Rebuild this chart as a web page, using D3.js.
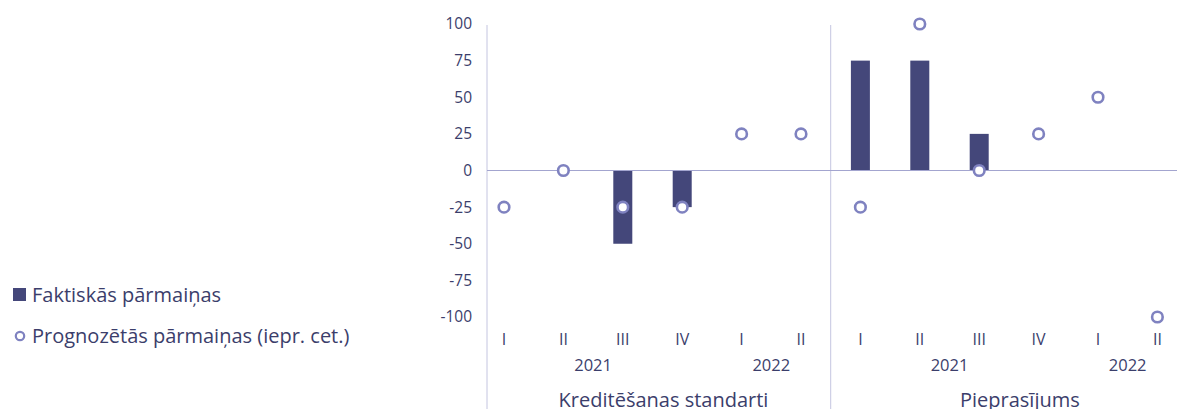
<!DOCTYPE html>
<html>
<head>
<meta charset="utf-8">
<script src="https://cdn.jsdelivr.net/npm/d3@7"></script>
<style>
  body { margin: 0; background: #fff; }
  svg { display: block; font-family: "Open Sans", sans-serif; }
</style>
</head>
<body>
<script>
// data
var groups   = ["Kreditēšanas standarti", "Pieprasījums"]
  , quarters = ["I", "II", "III", "IV", "I", "II"]
  , years    = ["2021", "2022"]
  , actual   = [[0, 0, -50, -25, 0, 0], [75, 75, 25, 0, 0, 0]]
  , forecast = [[-25, 0, -25, -25, 25, 25], [-25, 100, 0, 25, 50, -100]]
  , yTicks   = [100, 75, 50, 25, 0, -25, -50, -75, -100]
  , legendLabels = ["Faktiskās pārmaiņas", "Prognozētās pārmaiņas (iepr. cet.)"]

var W = 1179, H = 409
  , textColor = "#3b3e6b"
  , barColor  = "#44477a"
  , dotColor  = "#7f82c0"

var svg = d3.select("body").append("svg").attr("width", W).attr("height", H)

// flat list of categories
var rows = []
groups.forEach(function (g, gi) {
	quarters.forEach(function (q, qi) {
		rows.push({ key: gi + "-" + qi, g: gi, q: qi, label: q, bar: actual[gi][qi], dot: forecast[gi][qi] })
	})
})

var x = d3.scaleBand().domain(rows.map(function (d) { return d.key })).range([474.3, 1187.1])
  , y = d3.scaleLinear().domain([-100, 100]).range([317, 24])
  , cx = function (k) { return x(k) + x.bandwidth() / 2 }

var axisX = 487

// y axis labels (plain hyphen for negatives, like the original)
var yAxis = svg.append("g")
	.attr("transform", "translate(" + axisX + ",0)")
	.call(d3.axisLeft(y).tickValues(yTicks).tickSize(0).tickPadding(15).tickFormat(String))
yAxis.select(".domain").remove()
yAxis.selectAll("text").attr("fill", textColor).style("font-size", "15.5px").style("font-family", "Open Sans")

// vertical lines
svg.append("line").attr("x1", axisX).attr("x2", axisX).attr("y1", 25).attr("y2", H)
	.attr("stroke", "#c4c5e0").attr("stroke-width", 1)
var divX = (cx("0-5") + cx("1-0")) / 2
svg.append("line").attr("x1", divX).attr("x2", divX).attr("y1", 25).attr("y2", H)
	.attr("stroke", "#c4c5e0").attr("stroke-width", 1)

// bars
svg.selectAll("rect.bar").data(rows.filter(function (d) { return d.bar !== 0 }))
	.enter().append("rect").attr("class", "bar")
	.attr("x", function (d) { return cx(d.key) - 9.5 })
	.attr("width", 19)
	.attr("y", function (d) { return y(Math.max(0, d.bar)) })
	.attr("height", function (d) { return Math.abs(y(d.bar) - y(0)) })
	.attr("fill", barColor)

// zero line
svg.append("line").attr("x1", axisX).attr("x2", 1177).attr("y1", y(0)).attr("y2", y(0))
	.attr("stroke", "#a3a5cf").attr("stroke-width", 1)

// forecast dots
svg.selectAll("circle.dot").data(rows)
	.enter().append("circle").attr("class", "dot")
	.attr("cx", function (d) { return cx(d.key) })
	.attr("cy", function (d) { return y(d.dot) })
	.attr("r", 5.3)
	.attr("fill", "#fff")
	.attr("stroke", dotColor)
	.attr("stroke-width", 2.6)

// quarter labels
svg.selectAll("text.q").data(rows)
	.enter().append("text").attr("class", "q")
	.attr("x", function (d) { return cx(d.key) })
	.attr("y", 345)
	.attr("text-anchor", "middle")
	.attr("fill", textColor).style("font-size", "16px")
	.text(function (d) { return d.label })

// year + group labels
groups.forEach(function (g, gi) {
	svg.append("text")
		.attr("x", (cx(gi + "-1") + cx(gi + "-2")) / 2).attr("y", 371)
		.attr("text-anchor", "middle").attr("fill", textColor).style("font-size", "16.5px")
		.text(years[0])
	svg.append("text")
		.attr("x", (cx(gi + "-4") + cx(gi + "-5")) / 2).attr("y", 371)
		.attr("text-anchor", "middle").attr("fill", textColor).style("font-size", "16.5px")
		.text(years[1])
	svg.append("text")
		.attr("x", (cx(gi + "-2") + cx(gi + "-3")) / 2 + 11).attr("y", 407)
		.attr("text-anchor", "middle").attr("fill", textColor).style("font-size", "20px")
		.text(g)
})

// legend
var lg = svg.append("g")
lg.append("rect").attr("x", 13).attr("y", 288).attr("width", 13).attr("height", 13).attr("fill", barColor)
lg.append("text").attr("x", 32).attr("y", 302).attr("fill", textColor).style("font-size", "20px").text(legendLabels[0])
lg.append("circle").attr("cx", 20).attr("cy", 336).attr("r", 4.2).attr("fill", "#fff")
	.attr("stroke", dotColor).attr("stroke-width", 2.2)
lg.append("text").attr("x", 32).attr("y", 343).attr("fill", textColor).style("font-size", "20px").text(legendLabels[1])
</script>
</body>
</html>
